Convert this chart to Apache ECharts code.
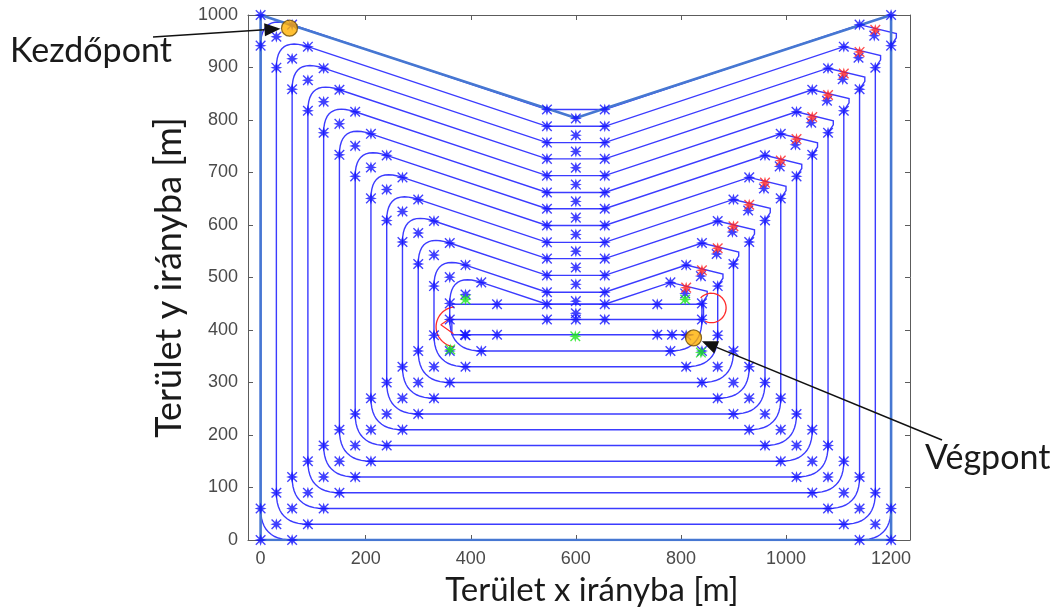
<!DOCTYPE html>
<html>
<head>
<meta charset="utf-8">
<script src="https://cdn.jsdelivr.net/npm/echarts@6/dist/echarts.min.js"></script>
<style>
  html, body { margin: 0; padding: 0; background: #ffffff; }
  #chart { width: 1061px; height: 609px; }
</style>
</head>
<body>
<div id="chart"></div>
<script>
// Field outline (m)
const fieldX = [0, 0, 545, 600, 655, 1200, 1200, 0];
const fieldY = [0, 1000, 822, 804, 822, 1000, 0, 0];

// Headland passes, outermost first: left edge, right edge, bottom edge, height at the ridge
const ringLeftX   = [0, 30, 60, 90, 120, 150, 180, 210, 240, 270, 300, 330, 360];
const ringRightX  = [1200, 1170, 1140, 1110, 1080, 1050, 1020, 990, 960, 930, 900, 870, 840];
const ringBottomY = [0, 30, 60, 90, 120, 150, 180, 210, 240, 270, 300, 330, 360];
const ringRidgeY  = [820, 788, 757, 726, 694, 662, 631, 599, 567, 536, 504, 472, 449];

// Innermost passes up to the end point
const coreX = [364, 843, 843, 364, 364, 824];
const coreY = [449, 449, 420, 420, 391, 391];

// Extra waypoints on the innermost passes
const coreStarX = [450, 755, 545, 600, 655, 389, 450, 755, 783];
const coreStarY = [449, 449, 420, 420, 420, 391, 391, 391, 391];

// Waypoints flagged green
const greenStarX = [390, 361, 599, 808, 838];
const greenStarY = [458, 363, 388, 458, 357];

// Turning manoeuvres at the two ends of the inner track
const turnX = [372, 858];
const turnY = [406, 442];
const turnR = [38, 28];
const turnFrom = [95, 137];
const turnTo = [265, -115];
const kinkX = [365, 343, 367];
const kinkY = [425, 410, 393];

const startPoint = [55, 975];
const endPoint = [824, 385];

const xTicks = [0, 200, 400, 600, 800, 1000, 1200];

// Pass geometry
const RIDGE_L = 545, RIDGE_R = 655, SLOPE = 1 / 3, TURN = 60, HOOK = 10;

const PATH_COLOR = '#3b3bff';
const STAR_BLUE = '#1010ff';
const FIELD_COLOR = '#4677d2';

const STAR_PATH = 'path://M10 0L12.4 7.6L20 10L12.4 12.4L10 20L7.6 12.4L0 10L7.6 7.6Z' +
  'M2.8 1.2L10 8.4L17.2 1.2L18.8 2.8L11.6 10L18.8 17.2L17.2 18.8L10 11.6L2.8 18.8L1.2 17.2L8.4 10L1.2 2.8Z';

function ringGeom(i) {
  const L = ringLeftX[i], R = ringRightX[i], B = ringBottomY[i], M = ringRidgeY[i];
  const yl = x => M + (RIDGE_L - x) * SLOPE;
  const yr = x => M + (x - RIDGE_R) * SLOPE;
  return { L, R, B, M, yl, yr, Ay: yr(R - TURN) };
}

function ringCommands(i) {
  const { L, R, B, M, yl, yr, Ay } = ringGeom(i);
  return [
    ['L', L, yl(L) - TURN],
    ['Q', L, yl(L), L + TURN, yl(L + TURN)],
    ['L', RIDGE_L, M],
    ['L', RIDGE_R, M],
    ['L', R - TURN, Ay],
    ['L', R + HOOK, Ay - 17],
    ['L', R + HOOK, Ay - 25],
    ['L', R, yr(R) - TURN],
    ['L', R, B + TURN],
    ['Q', R, B, R - TURN, B],
    ['L', L + TURN, B],
    ['Q', L, B, L, B + TURN],
    ['L', L, yl(L) - TURN]
  ];
}

// Waypoints along each pass
const blueStars = [[0, 1000], [1200, 1000], [0, 0], [1200, 0]];
const redStars = [];
ringLeftX.forEach((_, i) => {
  const { L, R, B, M, yl, yr, Ay } = ringGeom(i);
  const p1 = [L, yl(L) - TURN], p2 = [L + TURN, yl(L + TURN)];
  blueStars.push(p1, [L + TURN / 2, (p1[1] + p2[1]) / 2 - 3], p2);
  blueStars.push([RIDGE_L, M], [600, M - 17], [RIDGE_R, M]);
  blueStars.push([R - TURN, Ay], [R - 32, Ay - 21], [R, yr(R) - TURN]);
  blueStars.push([R, B + TURN], [R - TURN / 2, B + TURN / 2], [R - TURN, B]);
  blueStars.push([L + TURN, B], [L + TURN / 2, B + TURN / 2], [L, B + TURN]);
  redStars.push([R - 30, Ay - 10]);
});
coreStarX.forEach((x, i) => blueStars.push([x, coreStarY[i]]));
const greenStars = greenStarX.map((x, i) => [x, greenStarY[i]]);

const chart = echarts.init(document.getElementById('chart'), null, { renderer: 'canvas' });

const axisGray = '#5c5c5c';
const tickFont = { color: '#4a4a4a', fontFamily: 'Liberation Sans', fontSize: 18 };
const plain = v => String(v);

function mirrorX(pos, show) {
  return {
    type: 'value', min: -24, max: 1236, position: pos,
    axisLine: { onZero: false, lineStyle: { color: axisGray, width: 1 } },
    axisTick: { inside: true, length: 5, customValues: xTicks, lineStyle: { color: axisGray } },
    axisLabel: show ? Object.assign({ customValues: xTicks, margin: 10, formatter: plain }, tickFont) : { show: false },
    splitLine: { show: false }
  };
}
function mirrorY(pos, show) {
  return {
    type: 'value', min: 0, max: 1000, interval: 100, position: pos,
    axisLine: { onZero: false, lineStyle: { color: axisGray, width: 1 } },
    axisTick: { inside: true, length: 5, lineStyle: { color: axisGray } },
    axisLabel: show ? Object.assign({ margin: 10, formatter: plain }, tickFont) : { show: false },
    splitLine: { show: false }
  };
}

const xBottom = mirrorX('bottom', true);
xBottom.name = 'Terület x irányba [m]';
xBottom.nameLocation = 'middle';
xBottom.nameGap = 34;
xBottom.nameTextStyle = { color: '#1a1a1a', fontFamily: 'Lato', fontSize: 33, padding: [0, 0, 0, 26] };
const yLeft = mirrorY('left', true);
yLeft.name = 'Terület y irányba [m]';
yLeft.nameLocation = 'middle';
yLeft.nameGap = 50;
yLeft.nameTextStyle = { color: '#1a1a1a', fontFamily: 'Lato', fontSize: 36 };

function bezierPoints(p0, c, p2, n) {
  const out = [];
  for (let k = 1; k <= n; k++) {
    const t = k / n, u = 1 - t;
    out.push([u * u * p0[0] + 2 * u * t * c[0] + t * t * p2[0],
              u * u * p0[1] + 2 * u * t * c[1] + t * t * p2[1]]);
  }
  return out;
}

chart.setOption({
  animation: false,
  backgroundColor: '#ffffff',
  grid: { left: 248, right: 151, top: 15, bottom: 69, containLabel: false, outerBoundsMode: 'none' },
  xAxis: [xBottom, mirrorX('top', false)],
  yAxis: [yLeft, mirrorY('right', false)],
  series: [
    {
      name: 'passes',
      type: 'custom',
      coordinateSystem: 'cartesian2d',
      clip: true,
      z: 2,
      data: ringLeftX.map((x, i) => [x, ringBottomY[i], i]),
      encode: { x: 0, y: 1 },
      renderItem(params, api) {
        const cmds = ringCommands(api.value(2));
        const pts = [];
        let prev = null;
        cmds.forEach(c => {
          if (c[0] === 'Q') {
            const ctrl = api.coord([c[1], c[2]]);
            const end = api.coord([c[3], c[4]]);
            bezierPoints(prev, ctrl, end, 12).forEach(p => pts.push(p));
            prev = end;
          } else {
            prev = api.coord([c[1], c[2]]);
            pts.push(prev);
          }
        });
        return {
          type: 'polyline',
          shape: { points: pts },
          style: { stroke: PATH_COLOR, lineWidth: 1.4, fill: 'none' }
        };
      }
    },
    {
      name: 'core',
      type: 'line',
      z: 2,
      symbol: 'none',
      data: coreX.map((x, i) => [x, coreY[i]]),
      lineStyle: { color: PATH_COLOR, width: 1.4 }
    },
    {
      name: 'field',
      type: 'line',
      z: 3,
      symbol: 'none',
      data: fieldX.map((x, i) => [x, fieldY[i]]),
      lineStyle: { color: FIELD_COLOR, width: 2.6 }
    },
    {
      name: 'turns',
      type: 'custom',
      coordinateSystem: 'cartesian2d',
      z: 4,
      data: turnX.map((x, i) => [x, turnY[i], i]),
      encode: { x: 0, y: 1 },
      renderItem(params, api) {
        const i = api.value(2);
        const pts = [];
        const n = 40;
        for (let k = 0; k <= n; k++) {
          const a = (turnFrom[i] + (turnTo[i] - turnFrom[i]) * k / n) * Math.PI / 180;
          pts.push(api.coord([turnX[i] + turnR[i] * Math.cos(a), turnY[i] + turnR[i] * Math.sin(a)]));
        }
        return {
          type: 'polyline',
          shape: { points: pts },
          style: { stroke: '#ff2a2a', lineWidth: 1.3, fill: 'none' }
        };
      }
    },
    {
      name: 'kink',
      type: 'line',
      z: 4,
      symbol: 'none',
      data: kinkX.map((x, i) => [x, kinkY[i]]),
      lineStyle: { color: '#ff2a2a', width: 1.2 }
    },
    {
      name: 'waypoints',
      type: 'scatter',
      z: 5,
      symbol: STAR_PATH,
      symbolSize: 12,
      itemStyle: { color: STAR_BLUE },
      data: blueStars
    },
    {
      name: 'red waypoints',
      type: 'scatter',
      z: 6,
      symbol: STAR_PATH,
      symbolSize: 12,
      itemStyle: { color: '#ff2020' },
      data: redStars
    },
    {
      name: 'green waypoints',
      type: 'scatter',
      z: 6,
      symbol: STAR_PATH,
      symbolSize: 12,
      itemStyle: { color: '#19e619' },
      data: greenStars
    },
    {
      name: 'start / end',
      type: 'scatter',
      z: 7,
      symbol: 'circle',
      symbolSize: 16,
      itemStyle: { color: '#ffb000', borderColor: '#6b4800', borderWidth: 1.2 },
      data: [startPoint, endPoint]
    }
  ]
});

// Callout arrows and their labels
function arrow(tail, target) {
  const dx = tail[0] - target[0], dy = tail[1] - target[1];
  const len = Math.hypot(dx, dy), ux = dx / len, uy = dy / len;
  const tip = [target[0] + ux * 9, target[1] + uy * 9];
  const base = [tip[0] + ux * 16, tip[1] + uy * 16];
  const px = -uy * 6.5, py = ux * 6.5;
  return [
    { type: 'line', shape: { x1: tail[0], y1: tail[1], x2: base[0], y2: base[1] },
      style: { stroke: '#111111', lineWidth: 1.6 }, z: 100 },
    { type: 'polygon', shape: { points: [tip, [base[0] + px, base[1] + py], [base[0] - px, base[1] - py]] },
      style: { fill: '#111111' }, z: 100 }
  ];
}
const startPx = chart.convertToPixel({ xAxisIndex: 0, yAxisIndex: 0 }, startPoint);
const endPx = chart.convertToPixel({ xAxisIndex: 0, yAxisIndex: 0 }, endPoint);

chart.setOption({
  graphic: [
    ...arrow([153, 37], startPx),
    ...arrow([942, 440], endPx),
    { type: 'text', left: 10, top: 34, z: 100,
      style: { text: 'Kezdőpont', fill: '#1a1a1a', font: '34px Lato' } },
    { type: 'text', left: 925, top: 441, z: 100,
      style: { text: 'Végpont', fill: '#1a1a1a', font: '34px Lato' } }
  ]
});
</script>
</body>
</html>
